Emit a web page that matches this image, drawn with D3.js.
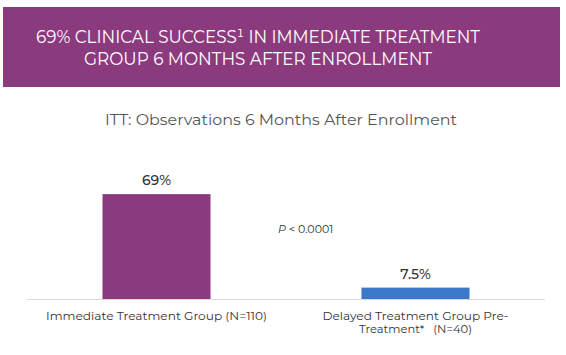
<!DOCTYPE html>
<html><head><meta charset="utf-8">
<script src="https://cdn.jsdelivr.net/npm/d3@7"></script>
<style>body{margin:0;background:#fff}svg{display:block}</style>
</head><body>
<svg id="c" width="566" height="355"></svg>
<script>
const titleLines = ["69% CLINICAL SUCCESS\u00B9 IN IMMEDIATE TREATMENT", "GROUP 6 MONTHS AFTER ENROLLMENT"];
const subtitle = "ITT: Observations 6 Months After Enrollment";
const categories = ["Immediate Treatment Group (N=110)", "Delayed Treatment Group Pre-Treatment* (N=40)"];
const categoryLines = [["Immediate Treatment Group (N=110)"], ["Delayed Treatment Group Pre-", "Treatment*\u00A0\u00A0 (N=40)"]];
const values = [69, 7.5];
const valueLabels = ["69%", "7.5%"];
const colors = ["#8c3a7e", "#3b78c9"];
const pLabel = "< 0.0001";

const svg = d3.select("#c");
const font = "Montserrat, 'Noto Sans', sans-serif";

svg.append("rect").attr("x", 3).attr("y", 7).attr("width", 557).attr("height", 80).attr("fill", "#8c3a7e");
const tl = [[43, 444], [65, 348]];
titleLines.forEach((t, i) => {
  svg.append("text").attr("x", 258).attr("y", tl[i][0]).attr("text-anchor", "middle")
    .attr("fill", "#fff").attr("font-family", font).attr("font-size", 19.5)
    .attr("textLength", tl[i][1]).attr("lengthAdjust", "spacingAndGlyphs").text(t);
});

svg.append("text").attr("x", 281).attr("y", 125).attr("text-anchor", "middle")
  .attr("fill", "#555").attr("font-family", font).attr("font-size", 14)
  .attr("textLength", 352).attr("lengthAdjust", "spacingAndGlyphs").text(subtitle);

const x = d3.scaleBand().domain(categories).range([27, 545]).paddingInner(0.583).paddingOuter(0.2915);
const y = d3.scaleLinear().domain([0, 100]).range([299, 147]);

svg.selectAll("rect.bar").data(values).join("rect").attr("class", "bar")
  .attr("x", (d, i) => x(categories[i])).attr("width", x.bandwidth())
  .attr("y", d => y(d)).attr("height", d => y(0) - y(d))
  .attr("fill", (d, i) => colors[i]);

svg.append("line").attr("x1", 27).attr("x2", 545).attr("y1", 299.5).attr("y2", 299.5)
  .attr("stroke", "#d9d9d9").attr("stroke-width", 1);

svg.selectAll("text.val").data(values).join("text").attr("class", "val")
  .attr("x", (d, i) => x(categories[i]) + x.bandwidth() / 2).attr("y", d => y(d) - 9)
  .attr("text-anchor", "middle").attr("fill", "#333").attr("font-family", font)
  .attr("font-size", 14).attr("font-weight", 500).text((d, i) => valueLabels[i]);

const lw = [[221], [186, 113]];
categoryLines.forEach((lines, i) => {
  lines.forEach((l, j) => {
    svg.append("text").attr("x", x(categories[i]) + x.bandwidth() / 2).attr("y", 320 + j * 13)
      .attr("text-anchor", "middle").attr("fill", "#333").attr("font-family", font)
      .attr("font-size", 11.5).attr("textLength", lw[i][j]).attr("lengthAdjust", "spacingAndGlyphs").text(l);
  });
});

const pt = svg.append("text").attr("x", 278).attr("y", 233).attr("fill", "#333")
  .attr("font-family", font).attr("font-size", 11);
pt.append("tspan").attr("font-style", "italic").text("P");
pt.append("tspan").text(" " + pLabel);
</script>
</body></html>
